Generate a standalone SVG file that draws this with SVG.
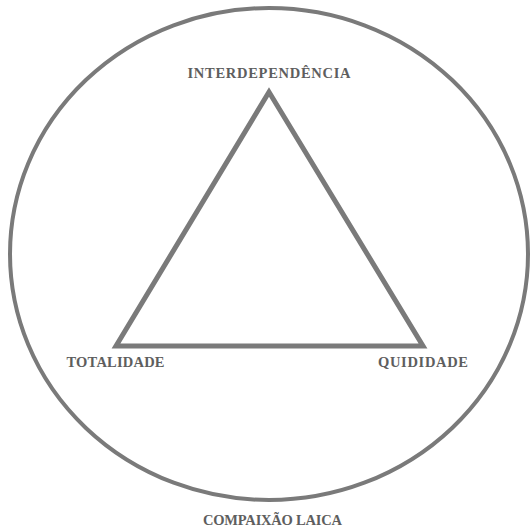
<svg xmlns="http://www.w3.org/2000/svg" width="530" height="532" viewBox="0 0 530 532">
<style>
.shape{fill:none;stroke:#7a7a7a;}
.lbl{font-family:"Liberation Serif","Times New Roman",serif;font-weight:bold;font-size:14.5px;fill:#5e5e5e;}
</style>
<rect width="530" height="532" fill="#ffffff"/>
<g id="circle-compaixao">
<ellipse class="shape" cx="269" cy="254" rx="259" ry="246" stroke-width="4"/>
<text class="lbl" x="203" y="525" textLength="139" lengthAdjust="spacing">COMPAIXÃO LAICA</text>
</g>
<g id="connectors">
<polygon class="shape" points="269,92 116,346 423,346" stroke-width="5" stroke-linejoin="miter"/>
</g>
<g id="node-interdependencia">
<text class="lbl" x="187.5" y="78" textLength="163" lengthAdjust="spacing">INTERDEPENDÊNCIA</text>
</g>
<g id="node-totalidade">
<text class="lbl" x="66.5" y="367" textLength="98" lengthAdjust="spacing">TOTALIDADE</text>
</g>
<g id="node-quididade">
<text class="lbl" x="378" y="367" textLength="90" lengthAdjust="spacing">QUIDIDADE</text>
</g>
</svg>
